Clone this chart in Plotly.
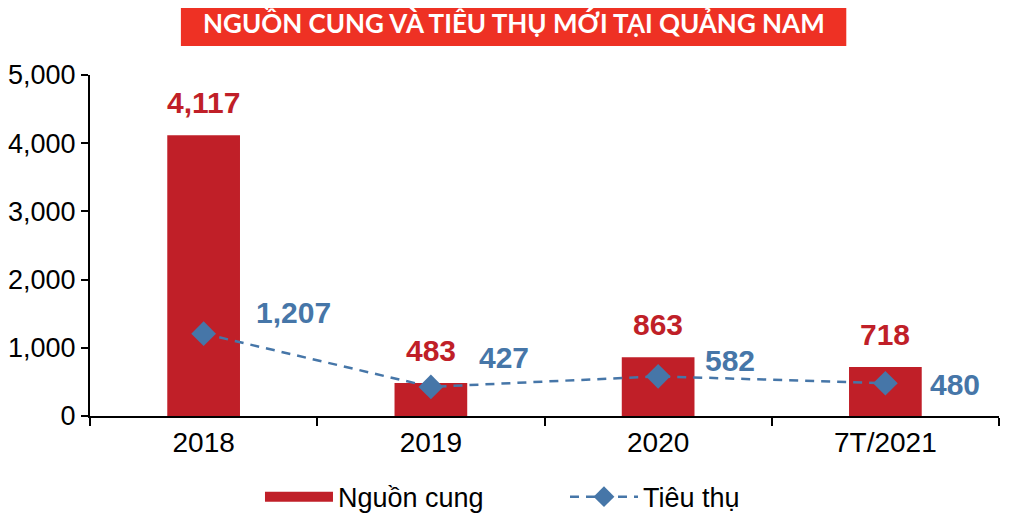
import plotly.graph_objects as go

categories = ["2018", "2019", "2020", "7T/2021"]
supply = [4117, 483, 863, 718]
absorption = [1207, 427, 582, 480]

RED = "#c01f28"
BLUE = "#4676a8"
TITLE_RED = "#ee3124"
FONT = "Liberation Sans, Arial"

# numeric slots for the categories, labels come from ticktext
xpos = list(range(len(categories)))

fig = go.Figure()

fig.add_trace(
    go.Bar(
        x=xpos,
        y=supply,
        name="Nguồn cung",
        marker=dict(color=RED, line=dict(width=0)),
        width=0.32,
        showlegend=False,
    )
)

# legend-only entry so the swatch is a wide block like the original
fig.add_trace(
    go.Scatter(
        x=[None], y=[None], mode="lines", name="Nguồn cung",
        line=dict(color=RED, width=14),
    )
)

fig.add_trace(
    go.Scatter(
        x=xpos,
        y=absorption,
        mode="lines+markers",
        name="Tiêu thụ",
        line=dict(color=BLUE, width=2.5, dash="9px,7px"),
        marker=dict(symbol="diamond", size=19, color=BLUE),
    )
)

# value labels
for x, v in zip(xpos, supply):
    fig.add_annotation(
        x=x, y=v, text=f"{v:,}", showarrow=False,
        yanchor="bottom", yshift=14,
        font=dict(family=FONT, size=30, color=RED, weight="bold"),
    )

line_shifts = [(53, 21), (49, 29), (48, 16), (46, -1)]
for x, v, (dx, dy) in zip(xpos, absorption, line_shifts):
    fig.add_annotation(
        x=x, y=v, text=f"{v:,}", showarrow=False,
        xanchor="left", yanchor="middle", xshift=dx - 3, yshift=dy,
        font=dict(family=FONT, size=30, color=BLUE, weight="bold"),
    )

# title banner
fig.add_shape(
    type="rect", xref="paper", yref="paper",
    x0=0.100, x1=0.832, y0=1.085, y1=1.25,
    fillcolor=TITLE_RED, line=dict(width=0), layer="above",
)
fig.add_annotation(
    xref="paper", yref="paper", x=0.466, y=1.153,
    text="NGUỒN CUNG VÀ TIÊU THỤ MỚI TẠI QUẢNG NAM",
    showarrow=False, yanchor="middle",
    font=dict(family="Lato", size=26, color="white", weight="bold"),
)

# the page body adds an 8px margin, so the figure is 8px smaller
fig.update_layout(
    width=1016,
    height=509,
    margin=dict(l=82, r=25, t=67, b=101, autoexpand=False),
    plot_bgcolor="white",
    paper_bgcolor="white",
    font=dict(family=FONT, size=28, color="black"),
    showlegend=True,
    legend=dict(
        orientation="h", x=0.187, xanchor="left", y=-0.238, yanchor="middle",
        font=dict(size=27), itemwidth=68, entrywidth=222,
    ),
)

fig.update_xaxes(
    range=[-0.5, len(categories) - 0.5],
    tickvals=xpos, ticktext=categories, ticks="",
    showline=True, linecolor="black", linewidth=2,
    showgrid=False, zeroline=False,
    minor=dict(
        tickvals=[i - 0.5 for i in range(len(categories) + 1)],
        ticks="outside", ticklen=8, tickwidth=2, tickcolor="black",
        showgrid=False,
    ),
)
fig.update_yaxes(
    range=[0, 5000], dtick=1000, tickformat=",",
    tickfont=dict(size=27),
    showline=True, linecolor="black", linewidth=2,
    ticks="outside", ticklen=7, tickwidth=2, tickcolor="black",
    showgrid=False, zeroline=False,
)

fig.write_html("out.html")
